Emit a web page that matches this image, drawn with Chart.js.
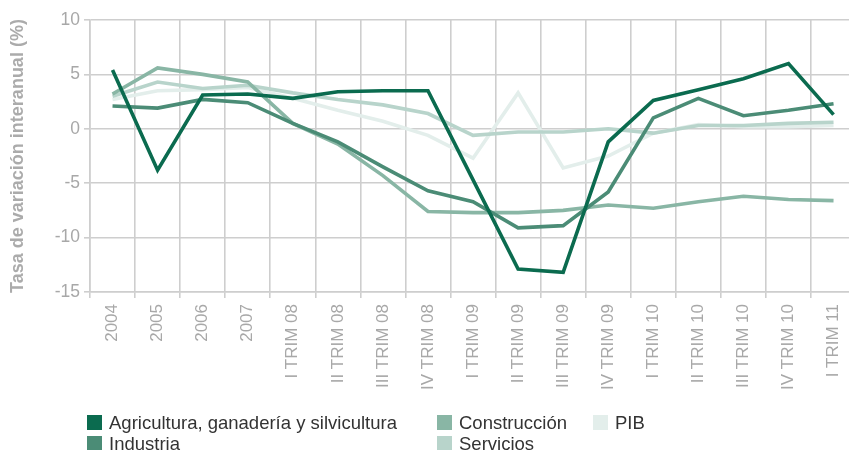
<!DOCTYPE html>
<html lang="es">
<head>
    <meta charset="UTF-8">
    <title>Tasa de variación interanual</title>
    <script src="https://cdn.jsdelivr.net/npm/chart.js"></script>
    <style>
        html, body { margin: 0; padding: 0; background: #fff; overflow: hidden; }
        #wrap { position: relative; width: 860px; height: 450px; }
        #legend { position: absolute; left: 0; top: 0; font-family: "Liberation Sans", Arial, sans-serif; font-size: 18.5px; color: #333; }
        .item { position: absolute; white-space: nowrap; line-height: 21px; }
        .box { position: absolute; left: 0; top: 3px; width: 15px; height: 15px; }
        .txt { position: absolute; left: 22px; top: 0; }
    </style>
</head>
<body>
<div id="wrap">
    <canvas id="grafico" width="860" height="450"></canvas>
    <div id="legend"></div>
</div>
<script>
    const categorias = ['2004', '2005', '2006', '2007',
        'I TRIM 08', 'II TRIM 08', 'III TRIM 08', 'IV TRIM 08',
        'I TRIM 09', 'II TRIM 09', 'III TRIM 09', 'IV TRIM 09',
        'I TRIM 10', 'II TRIM 10', 'III TRIM 10', 'IV TRIM 10',
        'I TRIM 11'];

    const agricultura  = [5.4, -3.8, 3.1, 3.2, 2.8, 3.4, 3.5, 3.5, -4.7, -12.9, -13.2, -1.2, 2.6, 3.6, 4.6, 6.0, 1.3];
    const industria    = [2.1, 1.9, 2.7, 2.4, 0.5, -1.2, -3.5, -5.7, -6.7, -9.1, -8.9, -5.8, 1.0, 2.8, 1.2, 1.7, 2.3];
    const construccion = [3.2, 5.6, 5.0, 4.3, 0.5, -1.4, -4.3, -7.6, -7.7, -7.7, -7.5, -7.0, -7.3, -6.7, -6.2, -6.5, -6.6];
    const servicios    = [3.0, 4.3, 3.7, 4.0, 3.3, 2.7, 2.2, 1.4, -0.6, -0.3, -0.3, 0.0, -0.4, 0.3, 0.3, 0.5, 0.6];
    const pib          = [2.7, 3.5, 3.6, 3.8, 2.8, 1.7, 0.7, -0.6, -2.7, 3.3, -3.6, -2.5, -0.4, 0.4, 0.2, 0.2, 0.3];

    const yTicks = [-15, -10, -5, 0, 5, 10];

    // orden de la leyenda: columna, fila
    const series = [
        { nombre: 'Agricultura, ganadería y silvicultura', datos: agricultura, color: '#0b6b4f', col: 0, fila: 0 },
        { nombre: 'Industria', datos: industria, color: '#4b8c76', col: 0, fila: 1 },
        { nombre: 'Construcción', datos: construccion, color: '#89b6a5', col: 1, fila: 0 },
        { nombre: 'Servicios', datos: servicios, color: '#b8d4cb', col: 1, fila: 1 },
        { nombre: 'PIB', datos: pib, color: '#e3eeeb', col: 2, fila: 0 }
    ];

    const gris = '#cecece';
    const fuente = '"Liberation Sans", Arial, sans-serif';

    new Chart(document.getElementById('grafico'), {
        type: 'line',
        data: {
            labels: categorias,
            datasets: series.map(s => ({
                label: s.nombre,
                data: s.datos,
                borderColor: s.color,
                backgroundColor: s.color,
                borderWidth: 3.6,
                pointRadius: 0,
                tension: 0,
                fill: false
            }))
        },
        options: {
            responsive: false,
            animation: false,
            layout: { padding: { top: 20, right: 2, left: 0, bottom: 0 } },
            plugins: { legend: { display: false }, tooltip: { enabled: false } },
            scales: {
                x: {
                    offset: true,
                    grid: { offset: true, color: gris, lineWidth: 1.6, tickLength: 6 },
                    border: { color: gris, width: 1.6 },
                    ticks: {
                        autoSkip: false, minRotation: 90, maxRotation: 90, padding: 6,
                        color: '#a8a8a8', font: { family: fuente, size: 17 }
                    },
                    afterFit: s => { s.height = 158; }
                },
                y: {
                    min: -15, max: 10,
                    afterBuildTicks: s => { s.ticks = yTicks.map(v => ({ value: v })); },
                    grid: { color: gris, lineWidth: 1.6, tickLength: 6 },
                    border: { color: gris, width: 1.6 },
                    ticks: { padding: 4, color: '#a8a8a8', font: { family: fuente, size: 17.5 } },
                    title: {
                        display: true,
                        text: 'Tasa de variación interanual (%)',
                        color: '#ababab',
                        font: { family: fuente, size: 18, weight: 'bold' },
                        padding: { top: 7, bottom: 0 }
                    },
                    afterFit: s => { s.width = 90; }
                }
            }
        }
    });

    const colX = [87, 437, 593];
    const filaY = [412, 433];
    const leyenda = document.getElementById('legend');
    series.forEach(s => {
        const item = document.createElement('div');
        item.className = 'item';
        item.style.left = colX[s.col] + 'px';
        item.style.top = filaY[s.fila] + 'px';
        item.innerHTML = `<span class="box" style="background:${s.color}"></span><span class="txt">${s.nombre}</span>`;
        leyenda.appendChild(item);
    });
</script>
</body>
</html>
